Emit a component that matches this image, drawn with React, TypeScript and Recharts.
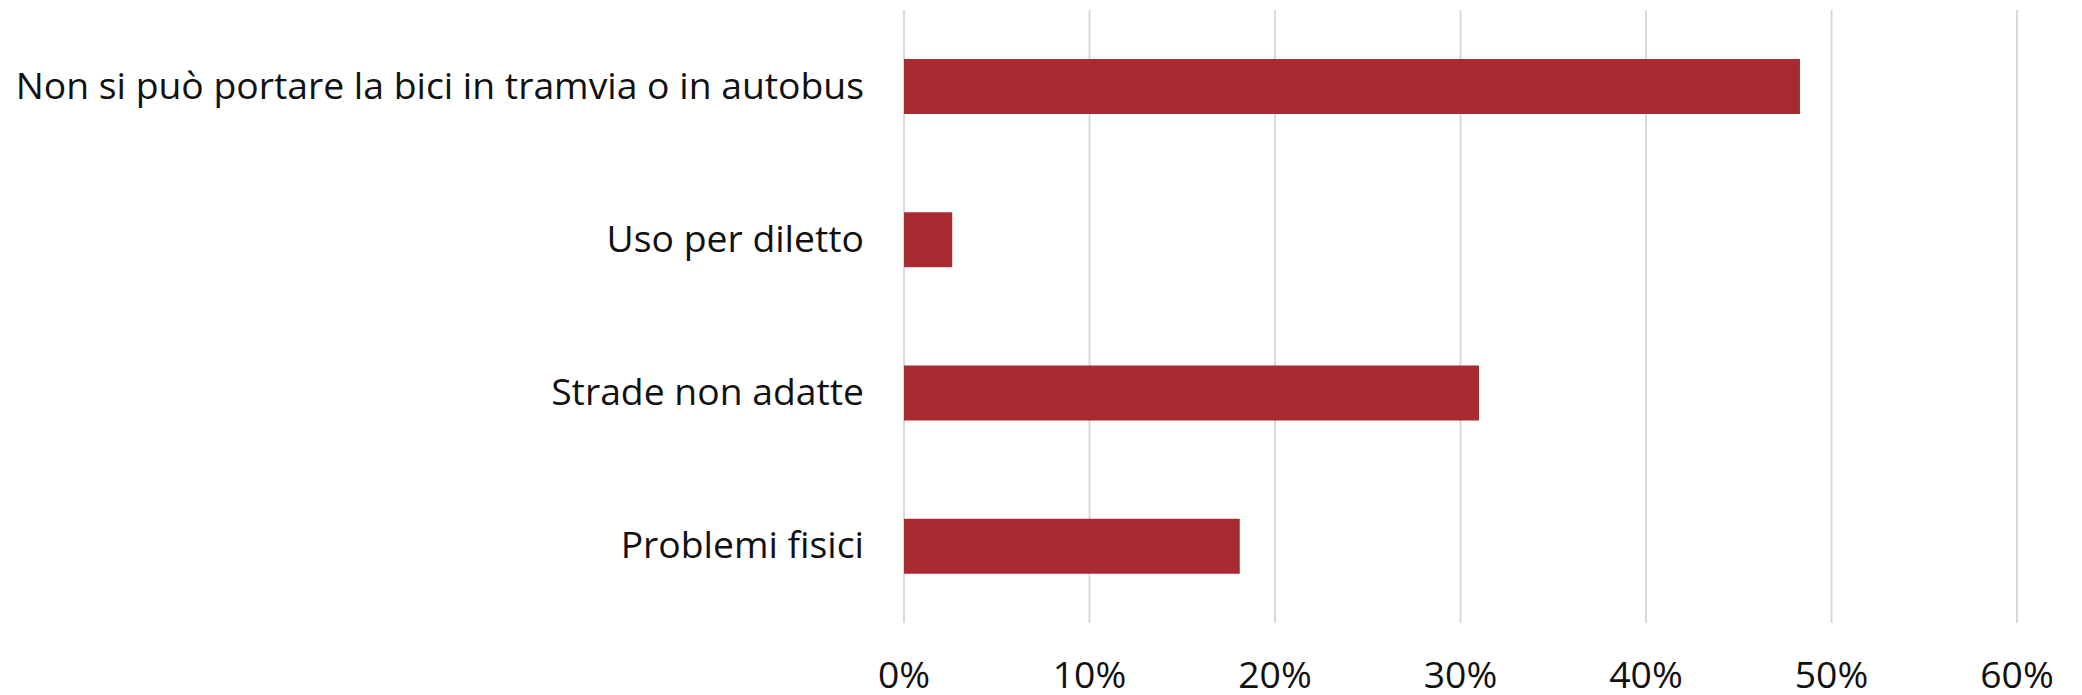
import React from 'react';
import { BarChart, Bar, XAxis, YAxis, CartesianGrid } from 'recharts';

const categories = [
  'Non si può portare la bici in tramvia o in autobus',
  'Uso per diletto',
  'Strade non adatte',
  'Problemi fisici',
];
const values = [48.3, 2.6, 31.0, 18.1];
const xTicks = [0, 10, 20, 30, 40, 50, 60];

const data = categories.map((name, i) => ({ name, value: values[i] }));

const FONT = '"Open Sans", sans-serif';

const XTick = (props: any) => {
  const { x, y, payload } = props;
  return (
    <text x={x} y={y} dy={57} textAnchor="middle" fontFamily={FONT} fontSize={37.3} fill="#111">
      {payload.value}%
    </text>
  );
};

const YTick = (props: any) => {
  const { x, y, payload } = props;
  return (
    <text x={x - 32} y={y} dy={12} textAnchor="end" fontFamily={FONT} fontSize={37.3} fill="#111">
      {payload.value}
    </text>
  );
};

const App: React.FC = () => {
  return (
    <div style={{ position: 'absolute', left: 0, top: 0, background: '#fff' }}>
      <BarChart
        width={2082}
        height={695}
        data={data}
        layout="vertical"
        margin={{ top: 10, right: 65, bottom: 0, left: 0 }}
      >
        <CartesianGrid horizontal={false} stroke="#d9d9d9" strokeWidth={2} />
        <XAxis
          type="number"
          domain={[0, 60]}
          ticks={xTicks}
          axisLine={false}
          tickLine={false}
          height={72}
          tick={<XTick />}
          interval={0}
        />
        <YAxis
          type="category"
          dataKey="name"
          width={904}
          axisLine={false}
          tickLine={false}
          tick={<YTick />}
          interval={0}
        />
        <Bar dataKey="value" fill="#a82b31" barSize={55} isAnimationActive={false} />
      </BarChart>
    </div>
  );
};

export default App;
